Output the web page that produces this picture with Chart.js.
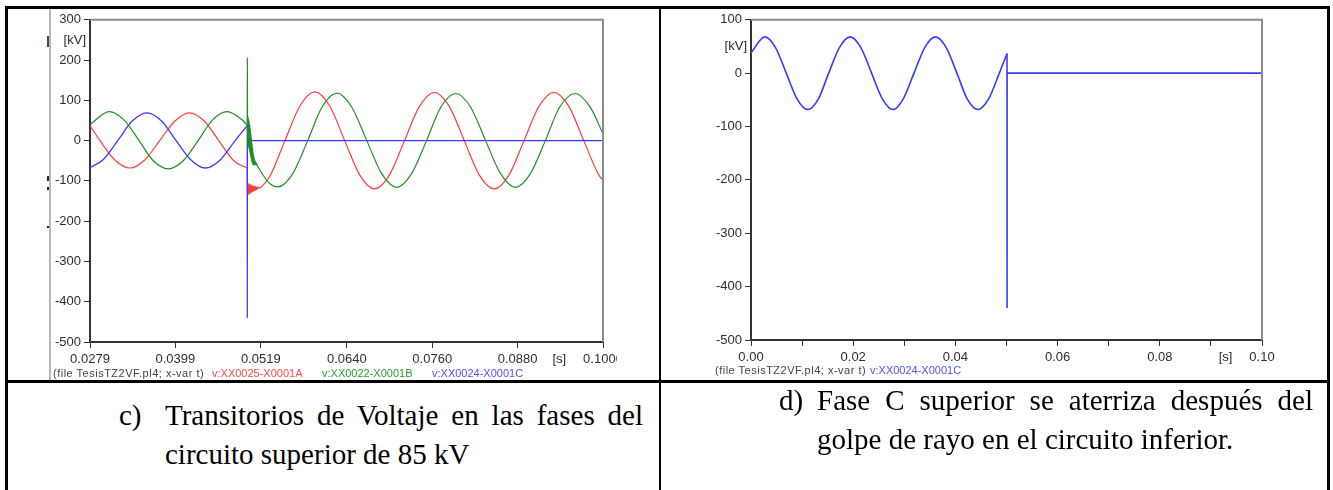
<!DOCTYPE html>
<html>
<head>
<meta charset="utf-8">
<script src="https://cdn.jsdelivr.net/npm/chart.js@4.4.1/dist/chart.umd.min.js"></script>
<style>
  html, body { margin: 0; padding: 0; background: #fff; }
  body { width: 1333px; height: 490px; position: relative; overflow: hidden; font-family: 'Liberation Sans', Arial, sans-serif; }
  .rule { position: absolute; background: #000; }
  .shot { position: absolute; overflow: hidden; }
  .shot canvas { position: absolute; left: 0; top: 0; }
  .legend { position: absolute; font-size: 11px; line-height: 12px; white-space: nowrap; color: #444; }
  .legend.file { letter-spacing: 0.5px; }
  .caption { position: absolute; font-family: 'Liberation Serif', 'Times New Roman', serif; font-size: 29px; line-height: 39px; text-align: justify; color: #000; }
  .mark { position: absolute; background: #222; }
</style>
</head>
<body>

<!-- table rules -->
<div class="rule" style="left:5px;top:6px;width:1325px;height:3px"></div>
<div class="rule" style="left:5px;top:6px;width:3px;height:484px"></div>
<div class="rule" style="left:659px;top:6px;width:2px;height:484px"></div>
<div class="rule" style="left:1327px;top:6px;width:3px;height:484px"></div>
<div class="rule" style="left:5px;top:380px;width:1325px;height:3px"></div>

<!-- left screenshot (c) -->
<div class="shot" style="left:48px;top:9px;width:569px;height:371px">
  <div style="position:absolute;left:1px;top:0;width:2px;height:371px;background:#b8b8b8"></div>
  <canvas id="chartC" width="620" height="364"></canvas>
</div>
<div class="mark" style="left:47px;top:36px;width:2px;height:11px;background:#3a4a6a"></div>
<div class="mark" style="left:47px;top:176px;width:2px;height:5px"></div>
<div class="mark" style="left:47px;top:187px;width:2px;height:3px"></div>
<div class="mark" style="left:47px;top:226px;width:2px;height:2px"></div>
<div class="legend file" style="left:53px;top:367px">(file TesisTZ2VF.pl4; x-var t)</div>
<div class="legend" style="left:212px;top:367px;color:#ff4a4a">v:XX0025-X0001A</div>
<div class="legend" style="left:322px;top:367px;color:#2f9a2f">v:XX0022-X0001B</div>
<div class="legend" style="left:432px;top:367px;color:#5050ff">v:XX0024-X0001C</div>

<!-- right screenshot (d) -->
<div class="shot" style="left:700px;top:9px;width:620px;height:371px">
  <canvas id="chartD" width="620" height="362"></canvas>
</div>
<div class="legend file" style="left:715px;top:364px">(file TesisTZ2VF.pl4; x-var t)</div>
<div class="legend" style="left:870px;top:364px;color:#5050ff">v:XX0024-X0001C</div>

<!-- captions -->
<div class="caption" style="left:119px;top:396px">c)</div>
<div class="caption" style="left:165px;top:396px;width:478px">Transitorios de Voltaje en las fases del circuito superior de 85 kV</div>
<div class="caption" style="left:779px;top:381px">d)</div>
<div class="caption" style="left:817px;top:381px;width:496px">Fase C superior se aterriza después del golpe de rayo en el circuito inferior.</div>

<script>
// ---- panel (c): upper circuit phase voltages, time [s] / voltage [kV] ----
const xTicksC = [0.0279, 0.0399, 0.0519, 0.0640, 0.0760, 0.0880, 0.1000];
const xLabelsC = ['0.0279', '0.0399', '0.0519', '0.0640', '0.0760', '0.0880', '0.1000'];
const tEventC = 0.0500;

// phase A (red)
const tA = [
  0.0279, 0.0293, 0.0314, 0.0335, 0.0356, 0.0377, 0.0398, 0.0419, 0.0440, 0.0460, 0.0481, 0.0500,
  0.05001, 0.05008, 0.05016, 0.05024, 0.05032, 0.05040, 0.05048, 0.05056, 0.05064, 0.05072,
  0.05080, 0.05088, 0.05096, 0.05104, 0.05112, 0.05120, 0.05130, 0.05140, 0.05150, 0.05165,
  0.0521, 0.0532, 0.0553, 0.0574, 0.0595, 0.0616, 0.0637, 0.0658, 0.0679, 0.0700,
  0.0721, 0.0742, 0.0763, 0.0784, 0.0805, 0.0826, 0.0847, 0.0868, 0.0889, 0.0910,
  0.0931, 0.0952, 0.0973, 0.0994, 0.1000
];
const vA = [
  37, 0, -48, -68, -48, 0, 48, 69, 48, 0, -50, -68,
  -98, -136, -106, -133, -110, -131, -108, -129, -112, -127,
  -111, -126, -114, -124, -113, -123, -116, -121, -115, -118,
  -113, -88, 0, 86, 121, 86, 0, -85, -120, -85,
  0, 85, 120, 85, 0, -85, -120, -85, 0, 85,
  120, 85, 0, -85, -98
];

// phase B (green)
const tB = [
  0.0279, 0.0306, 0.0327, 0.0348, 0.0368, 0.0389, 0.0410, 0.0431, 0.0451, 0.0472, 0.0493, 0.0500,
  0.05001, 0.05004, 0.05008, 0.05012, 0.05016, 0.05020, 0.05024, 0.05028, 0.05032, 0.05036,
  0.05040, 0.05044, 0.05048, 0.05052, 0.05056, 0.05060, 0.05064, 0.05068, 0.05072, 0.05076,
  0.05080, 0.05084, 0.05088, 0.05092, 0.05096, 0.05100, 0.05106, 0.05112, 0.05120, 0.05130,
  0.05140, 0.05155,
  0.0522, 0.0532, 0.0543, 0.0564, 0.0585, 0.0605, 0.0626, 0.0647, 0.0668, 0.0689,
  0.0710, 0.0731, 0.0752, 0.0772, 0.0793, 0.0814, 0.0835, 0.0856, 0.0877, 0.0898,
  0.0919, 0.0939, 0.0961, 0.0982, 0.1000
];
const vB = [
  40, 72, 51, 0, -50, -70, -50, 0, 51, 72, 51, 38,
  205, 62, -12, 60, -15, 54, -20, 48, -26, 40,
  -33, 30, -40, 18, -46, 6, -52, -6, -56, -18,
  -60, -30, -60, -38, -60, -45, -60, -50, -60, -56,
  -62, -66,
  -85, -107, -115, -82, 0, 83, 118, 83, 0, -82,
  -116, -82, 0, 83, 117, 83, 0, -82, -116, -82,
  0, 83, 117, 83, 17
];

// phase C (blue), grounded at t = 0.050 s
const tC = [0.0279, 0.0297, 0.0318, 0.0338, 0.0359, 0.0380, 0.0400, 0.0421, 0.0441, 0.0462, 0.0483, 0.0500, 0.05001, 0.05002, 0.1000];
const vC = [-67, -48, 0, 48, 69, 48, 0, -48, -68, -48, 0, 37, -440, 0, 0];

// ---- panel (d): phase C only, from t = 0 ----
const xTicksD = [0, 0.01, 0.02, 0.03, 0.04, 0.05, 0.06, 0.07, 0.08, 0.09, 0.10];
const xLabelsD = ['0.00', '', '0.02', '', '0.04', '', '0.06', '', '0.08', '', '0.10'];
const tEventD = 0.0501;
const tD = [
  0.0000, 0.0027, 0.0048, 0.0069, 0.0090, 0.0111, 0.0132, 0.0152, 0.0173, 0.0194,
  0.0215, 0.0236, 0.0257, 0.0278, 0.0298, 0.0319, 0.0340, 0.0361, 0.0382, 0.0403,
  0.0423, 0.0444, 0.0465, 0.0486, 0.0501, 0.05011, 0.05012, 0.1000
];
const vD = [
  38, 68, 48, 0, -48, -68, -48, 0, 48, 68,
  48, 0, -48, -68, -48, 0, 48, 68, 48, 0,
  -48, -68, -48, 0, 37, -440, 0, 0
];

const yUnit = '[kV]';
const xUnit = '[s]';

const colors = {
  red: '#ff3c3c',
  green: '#1f8f1f',
  blue: '#3a3aff',
  axis: '#333333',
  frame: '#8c8c8c',
  text: '#2e2e2e'
};
const tickFont = { family: "'Liberation Sans', Arial, sans-serif", size: 13 };

function zip(ts, vs, from, to) {
  const out = [];
  for (let i = from; i < to; i++) out.push({ x: ts[i], y: vs[i] });
  return out;
}

// the switching event breaks the curve: smooth before it, separate trace after it
function series(ts, vs, tSplit, color, width, order) {
  const n = Math.min(ts.length, vs.length);
  let k = ts.indexOf(tSplit);
  if (k < 0) k = n - 1;
  const base = {
    borderColor: color,
    borderWidth: width,
    pointRadius: 0,
    cubicInterpolationMode: 'monotone',
    fill: false,
    order: order
  };
  return [
    Object.assign({ data: zip(ts, vs, 0, k + 1) }, base),
    Object.assign({ data: zip(ts, vs, k, n) }, base)
  ];
}

// ATP-style plot frame: grey top/right edges plus the [kV] / [s] unit labels
const atpFrame = {
  id: 'atpFrame',
  afterDraw(chart) {
    const { ctx, chartArea, scales } = chart;
    const x = scales.x, y = scales.y;
    ctx.save();
    ctx.strokeStyle = colors.frame;
    ctx.lineWidth = 2;
    ctx.beginPath();
    ctx.moveTo(chartArea.left, chartArea.top);
    ctx.lineTo(chartArea.right, chartArea.top);
    ctx.lineTo(chartArea.right, chartArea.bottom);
    ctx.stroke();

    ctx.font = tickFont.size + 'px ' + tickFont.family;
    ctx.fillStyle = colors.text;
    ctx.textBaseline = 'middle';

    const yt = y.ticks;
    const yMid = (y.getPixelForValue(yt[yt.length - 1].value) + y.getPixelForValue(yt[yt.length - 2].value)) / 2;
    ctx.textAlign = 'right';
    ctx.fillText(yUnit, chartArea.left - 4, yMid);

    const xt = x.ticks;
    const last = xt[xt.length - 1];
    const lastPx = x.getPixelForValue(last.value);
    const w = ctx.measureText(last.label).width;
    ctx.fillText(xUnit, lastPx - w / 2 - 17, chartArea.bottom + 17);
    ctx.restore();
  }
};

function makeChart(id, datasets, cfg) {
  return new Chart(document.getElementById(id), {
    type: 'line',
    data: { datasets: datasets },
    options: {
      responsive: false,
      animation: false,
      events: [],
      layout: { padding: { top: 9, right: cfg.padRight, left: 0, bottom: 0 } },
      plugins: { legend: { display: false }, tooltip: { enabled: false } },
      scales: {
        x: {
          type: 'linear',
          min: cfg.xMin,
          max: cfg.xMax,
          afterBuildTicks: s => { s.ticks = cfg.xTicks.map(v => ({ value: v })); },
          afterFit: s => { s.height = cfg.xHeight; },
          ticks: {
            autoSkip: false,
            maxRotation: 0,
            padding: 4,
            color: colors.text,
            font: tickFont,
            callback: (v, i) => cfg.xLabels[i]
          },
          grid: { display: true, drawOnChartArea: false, drawTicks: true, tickLength: 6, color: colors.axis, lineWidth: 1 },
          border: { display: true, color: colors.axis, width: 2 }
        },
        y: {
          type: 'linear',
          min: cfg.yMin,
          max: cfg.yMax,
          afterFit: s => { s.width = cfg.yWidth; },
          ticks: {
            stepSize: 100,
            padding: 3,
            color: colors.text,
            font: tickFont,
            callback: v => String(v)
          },
          grid: { display: true, drawOnChartArea: false, drawTicks: true, tickLength: 6, color: colors.axis, lineWidth: 1 },
          border: { display: true, color: colors.axis, width: 2 }
        }
      }
    },
    plugins: [atpFrame]
  });
}

makeChart('chartC', [].concat(
  series(tA, vA, tEventC, colors.red, 1.2, 2),
  series(tB, vB, tEventC, colors.green, 1.2, 0),
  series(tC, vC, tEventC, colors.blue, 1.3, 1)
), {
  xMin: 0.0279, xMax: 0.1, yMin: -500, yMax: 300,
  xTicks: xTicksC, xLabels: xLabelsC,
  yWidth: 42, xHeight: 31, padRight: 65
});

makeChart('chartD', series(tD, vD, tEventD, colors.blue, 1.6, 0), {
  xMin: 0, xMax: 0.1, yMin: -500, yMax: 100,
  xTicks: xTicksD, xLabels: xLabelsD,
  yWidth: 51, xHeight: 31, padRight: 58
});
</script>
</body>
</html>
